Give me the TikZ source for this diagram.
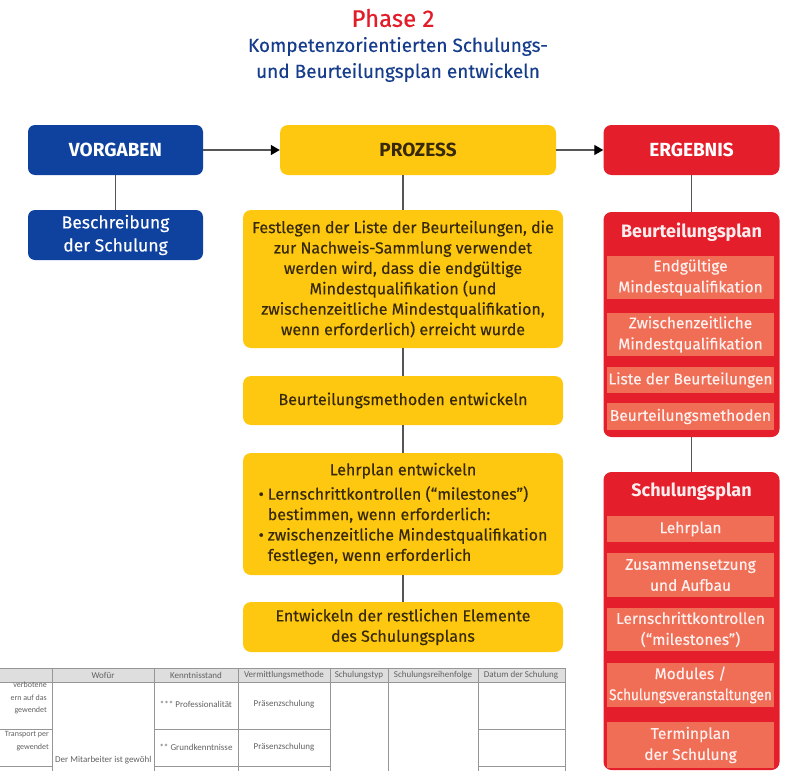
\documentclass[tikz,border=0pt]{standalone}
\usepackage{fontspec}
\setmainfont{Fira Sans}
\newfontfamily\medfont{Fira Sans}[FakeBold=0.35]
\newfontfamily\tablefont{Carlito}
\usetikzlibrary{arrows.meta}

\definecolor{vblue}{RGB}{14,66,158}
\definecolor{pyellow}{RGB}{255,200,16}
\definecolor{ered}{RGB}{228,30,42}
\definecolor{esub}{RGB}{240,110,86}
\definecolor{ptext}{RGB}{56,42,8}
\definecolor{conn}{RGB}{85,85,85}
\definecolor{titlered}{RGB}{226,28,40}
\definecolor{titleblue}{RGB}{22,60,140}
\definecolor{tline}{RGB}{150,150,150}

\begin{document}
\begin{tikzpicture}[x=1pt, y=-1pt,
    hd/.style = {font=\fontsize{19}{22}\selectfont\bfseries},
    shd/.style = {font=\fontsize{18}{22}\selectfont\bfseries},
    txt/.style = {font=\medfont\fontsize{16}{20.4}\selectfont},
    vbox/.style = {fill=vblue, text=white, rounded corners=7pt, minimum width=175pt, minimum height=50pt, align=center, inner sep=0pt},
    ybox/.style = {fill=pyellow, text=ptext, rounded corners=8pt, minimum width=320pt, align=center, inner sep=0pt, txt},
    rbox/.style = {fill=ered, text=white, rounded corners=8pt, minimum width=176pt, align=center, inner sep=0pt},
    sub/.style = {fill=esub, text=white!90!esub, minimum width=167pt, align=center, inner sep=0pt, font=\medfont\fontsize{15.5}{21}\selectfont},
    link/.style = {draw=conn, line width=1.3pt},
    arr/.style = {link, -{Triangle[length=9pt,width=10pt,color=black]}},
    tab/.style = {font=\tablefont\fontsize{9}{12.5}\selectfont, text=tline!65!black, inner sep=0pt},
    tabs/.style = {tab, font=\tablefont\fontsize{8}{12.5}\selectfont}]

    \useasboundingbox (0,0) rectangle (787,771);

    % title
    \node[text=titlered, font=\medfont\fontsize{24}{26}\selectfont] (title) at (393,18) {Phase 2};
    \node[text=titleblue, font=\medfont\fontsize{19}{26}\selectfont, align=center] (subtitle) at (398,59.5) {Kompetenzorientierten Schulungs-\\und Beurteilungsplan entwickeln};

    % Vorgaben
    \node[vbox, hd] (vorg) at (115.5,150) {VORGABEN};
    \node[vbox, font=\medfont\fontsize{17.5}{23}\selectfont] (beschr) at (115.5,235) {Beschreibung\\der Schulung};

    % Prozess
    \node[ybox, hd, minimum width=276pt, minimum height=50pt] (proz) at (418,150) {PROZESS};
    \node[ybox, minimum height=138pt] (f1) at (403,279) {Festlegen der Liste der Beurteilungen, die\\zur Nachweis-Sammlung verwendet\\werden wird, dass die endgültige\\Mindestqualifikation (und\\zwischenzeitliche Mindestqualifikation,\\wenn erforderlich) erreicht wurde};
    \node[ybox, minimum height=49pt] (f2) at (403,400.5) {Beurteilungsmethoden entwickeln};
    \node[ybox, minimum height=122pt] (f3) at (403,514) {%
        \begin{tabular}{@{}l@{\hspace{4pt}}l@{}}
        \multicolumn{2}{c}{Lehrplan entwickeln}\\[4pt]
        • & Lernschrittkontrollen (“milestones”)\\
          & bestimmen, wenn erforderlich:\\
        • & zwischenzeitliche Mindestqualifikation\\
          & festlegen, wenn erforderlich
        \end{tabular}};
    \node[ybox, minimum height=50pt] (f4) at (403,627) {Entwickeln der restlichen Elemente\\des Schulungsplans};

    % Ergebnis
    \node[rbox, hd, minimum height=50pt] (erg) at (691.5,150) {ERGEBNIS};
    \node[rbox, minimum height=225pt] (bplan) at (691.5,324.5) {};
    \node[text=white!92!ered, shd] (bplanT) at (691.5,232) {Beurteilungsplan};
    \node[sub, minimum height=43pt] (b1) at (690.5,277.5) {Endgültige\\Mindestqualifikation};
    \node[sub, minimum height=43pt] (b2) at (690.5,334.5) {Zwischenzeitliche\\Mindestqualifikation};
    \node[sub, minimum height=26pt] (b3) at (690.5,380) {Liste der Beurteilungen};
    \node[sub, minimum height=27pt] (b4) at (690.5,416.5) {Beurteilungsmethoden};

    \node[rbox, minimum height=298pt] (splan) at (691.5,621) {};
    \node[text=white!92!ered, shd] (splanT) at (691.5,492) {Schulungsplan};
    \node[sub, minimum height=26pt] (s1) at (690.5,529) {Lehrplan};
    \node[sub, minimum height=44pt] (s2) at (690.5,575) {Zusammensetzung\\und Aufbau};
    \node[sub, minimum height=43pt] (s3) at (690.5,629.5) {Lernschrittkontrollen\\(“milestones”)};
    \node[sub, minimum height=44pt] (s4) at (690.5,685) {Modules /\\\scalebox{0.88}[1]{Schulungsveranstaltungen}};
    \node[sub, minimum height=46pt] (s5) at (690.5,745) {Terminplan\\der Schulung};

    % connectors
    \draw[arr] (vorg) -- (proz);
    \draw[arr] (proz) -- (erg);
    \draw[link] (vorg) -- (beschr);
    \draw[link] (f1.north |- proz.south) -- (f1);
    \draw[link] (f1) -- (f2);
    \draw[link] (f2) -- (f3);
    \draw[link] (f3) -- (f4);
    \draw[link] (erg) -- (bplan);
    \draw[link] (bplan) -- (splan);

    % table excerpt
    \fill[black!13] (0,668) rectangle (565,682);
    \draw[tline, line width=0.9pt] (0,668) -- (565,668) (0,682) -- (565,682);
    \draw[tline, line width=0.9pt] (52,668) -- (52,771) (154,668) -- (154,771) (238,668) -- (238,771)
        (330,668) -- (330,771) (388,668) -- (388,771) (478,668) -- (478,771) (565,668) -- (565,771);
    \draw[tline, line width=0.9pt] (0,729) -- (52,729) (154,729) -- (330,729) (478,729) -- (565,729);
    \draw[tline, line width=0.9pt] (0,766) -- (52,766) (154,766) -- (330,766) (478,766) -- (565,766);
    \node[tab] (h2) at (103,675) {Wofür};
    \node[tab] (h3) at (196,675) {Kenntnisstand};
    \node[tab] (h4) at (284,675) {Vermittlungsmethode};
    \node[tab] (h5) at (359,675) {Schulungstyp};
    \node[tab] (h6) at (433,675) {Schulungsreihenfolge};
    \node[tab] (h7) at (521,675) {Datum der Schulung};
    \node[tabs, anchor=east, align=right] (c1) at (47,698) {verbotene\\ern auf das\\gewendet};
    \node[tabs, anchor=east, align=right] (c2) at (49,741) {Transport per\\gewendet};
    \node[tab] (k1) at (196,704) {*** Professionalität};
    \node[tab] (v1) at (284,704) {Präsenzschulung};
    \node[tab] (k2) at (196,747) {** Grundkenntnisse};
    \node[tab] (v2) at (284,747) {Präsenzschulung};
    \node[tab, anchor=west] (w1) at (55,760) {Der Mitarbeiter ist gewöhl};
\end{tikzpicture}
\end{document}
